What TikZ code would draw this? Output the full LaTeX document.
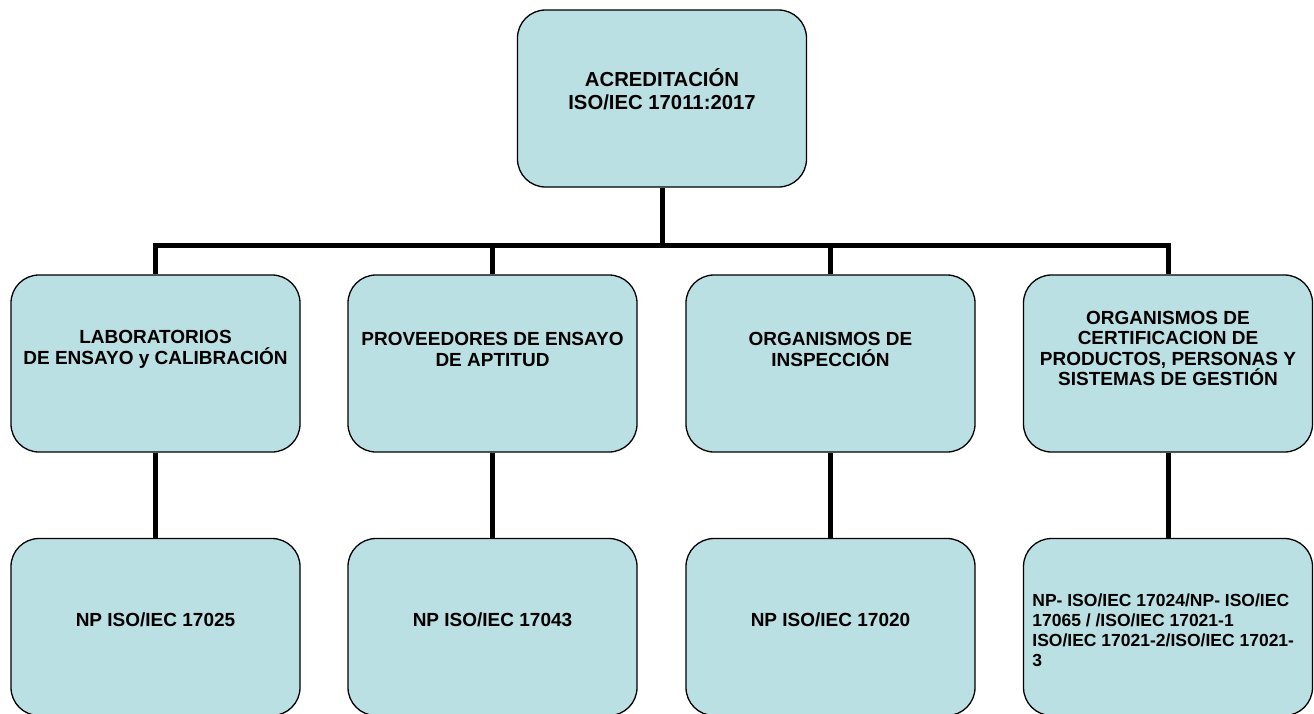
\documentclass[tikz,border=0pt]{standalone}
\usepackage{fontspec}
\setmainfont{Liberation Sans}
\usetikzlibrary{calc}
\definecolor{celeste}{RGB}{187,224,227}
\tikzset{
  caja/.style={draw, fill=celeste, line width=1.3pt, rounded corners=28pt,
    minimum width=289pt, minimum height=177pt},
  rotulo/.style={font=\fontsize{19}{20.5}\selectfont\bfseries, align=center},
  linea/.style={line width=5pt}
}
\begin{document}
\begin{tikzpicture}[x=1pt,y=-1pt]
        \useasboundingbox (0,0) rectangle (1314,713);
        % caja principal
        \node[caja] (acred) at (662,98.5) {};
        \node[rotulo, font=\fontsize{20.3}{23}\selectfont\bfseries] (tacred) at ($(acred)+(0,-9)$)
          {ACREDITACIÓN\\ISO/IEC 17011:2017};
        \begin{scope}
          % fila de organismos
          \node[caja] (sup1) at (155.5,363.5) {};
          \node[caja] (sup2) at (492.5,363.5) {};
          \node[caja] (sup3) at (830.5,363.5) {};
          \node[caja] (sup4) at (1168,363.5) {};
          \node[rotulo] (tsup1) at ($(sup1)+(0,-14)$) {LABORATORIOS\\DE ENSAYO y CALIBRACIÓN};
          \node[rotulo] (tsup2) at ($(sup2)+(0,-14)$) {PROVEEDORES DE ENSAYO\\DE APTITUD};
          \node[rotulo] (tsup3) at ($(sup3)+(0,-14)$) {ORGANISMOS DE\\INSPECCIÓN};
          \node[rotulo] (tsup4) at ($(sup4)+(0,-15)$)
            {ORGANISMOS DE\\CERTIFICACION DE\\PRODUCTOS, PERSONAS Y\\SISTEMAS DE GESTIÓN};
        \end{scope}
        \begin{scope}
          % fila de normas
          \node[caja] (inf1) at (155.5,627) {};
          \node[caja] (inf2) at (492.5,627) {};
          \node[caja] (inf3) at (830.5,627) {};
          \node[caja] (inf4) at (1168,627) {};
          \node[rotulo] (tinf1) at ($(inf1)+(0,-7)$) {NP ISO/IEC 17025};
          \node[rotulo] (tinf2) at ($(inf2)+(0,-7)$) {NP ISO/IEC 17043};
          \node[rotulo] (tinf3) at ($(inf3)+(0,-7)$) {NP ISO/IEC 17020};
          \node[rotulo, font=\fontsize{17.5}{20}\selectfont\bfseries, align=left, anchor=west]
            (tinf4) at ($(inf4.west)+(6,3)$)
            {NP- ISO/IEC 17024/NP- ISO/IEC\\17065 / /ISO/IEC 17021-1\\ISO/IEC 17021-2/ISO/IEC 17021-\\3};
        \end{scope}
        % conectores
        \draw[linea] (acred.south) -- ++(0,58) coordinate (bus);
        \draw[linea] (sup1.north) |- (bus) -| (sup4.north);
        \draw[linea] (sup2.north) -- (sup2.north |- bus);
        \draw[linea] (sup3.north) -- (sup3.north |- bus);
        \foreach \n in {1,...,4} {
          \draw[linea] (sup\n.south) -- (inf\n.north);
        }
      \end{tikzpicture}
\end{document}
